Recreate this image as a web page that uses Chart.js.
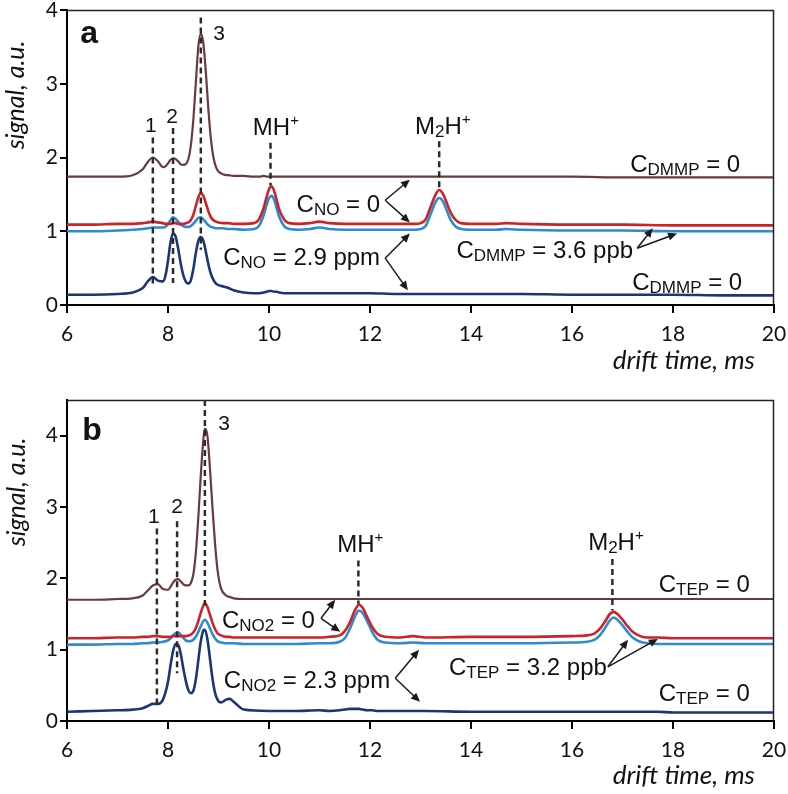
<!DOCTYPE html>
<html>
<head>
<meta charset="utf-8">
<script src="https://cdn.jsdelivr.net/npm/chart.js@4/dist/chart.umd.min.js"></script>
<style>
  html, body { margin:0; padding:0; background:#fff; }
  #wrap { position:relative; width:788px; height:794px; }
  .panel { position:absolute; left:0; width:788px; }
</style>
</head>
<body>
<div id="wrap">
  <div class="panel" style="top:0;height:390px"><canvas id="chartA" width="788" height="390"></canvas></div>
  <div class="panel" style="top:390px;height:404px"><canvas id="chartB" width="788" height="404"></canvas></div>
</div>
<script>
// ---------------- DATA : panel a (DMMP, NO) ----------------
const aTime = [6, 6.5, 7, 7.3, 7.5, 7.6, 7.7, 7.8, 7.9, 7.95, 8, 8.05, 8.1, 8.15, 8.2, 8.25, 8.3, 8.35, 8.4, 8.45, 8.5, 8.55, 8.6, 8.65, 8.7, 8.75, 8.8, 8.85, 8.9, 8.95, 9, 9.1, 9.2, 9.3, 9.5, 9.7, 9.8, 9.9, 9.95, 10, 10.05, 10.1, 10.15, 10.2, 10.3, 10.4, 10.6, 10.8, 11, 11.2, 11.5, 12, 12.5, 12.9, 13, 13.1, 13.2, 13.3, 13.37, 13.45, 13.5, 13.6, 13.7, 13.8, 14, 14.5, 14.7, 15, 16, 17, 18, 19, 20];
const aBrown = [1.74, 1.74, 1.74, 1.76, 1.84, 1.94, 2.00, 1.95, 1.87, 1.88, 1.92, 1.97, 1.99, 1.98, 1.95, 1.91, 1.90, 1.91, 1.97, 2.15, 2.50, 3.00, 3.50, 3.68, 3.55, 3.15, 2.65, 2.25, 2.00, 1.87, 1.81, 1.77, 1.76, 1.75, 1.75, 1.74, 1.74, 1.75, 1.74, 1.74, 1.74, 1.74, 1.74, 1.74, 1.74, 1.74, 1.74, 1.74, 1.74, 1.74, 1.74, 1.74, 1.74, 1.74, 1.74, 1.74, 1.74, 1.74, 1.74, 1.74, 1.74, 1.74, 1.74, 1.74, 1.74, 1.74, 1.74, 1.74, 1.74, 1.73, 1.73, 1.73, 1.73];
const aRed = [1.09, 1.09, 1.10, 1.10, 1.11, 1.12, 1.13, 1.12, 1.11, 1.10, 1.10, 1.10, 1.11, 1.11, 1.10, 1.10, 1.10, 1.11, 1.12, 1.15, 1.22, 1.34, 1.46, 1.52, 1.48, 1.38, 1.27, 1.19, 1.15, 1.13, 1.12, 1.11, 1.11, 1.10, 1.10, 1.11, 1.16, 1.33, 1.46, 1.57, 1.61, 1.55, 1.43, 1.30, 1.16, 1.11, 1.10, 1.11, 1.13, 1.11, 1.10, 1.10, 1.10, 1.10, 1.11, 1.16, 1.33, 1.50, 1.56, 1.50, 1.42, 1.25, 1.15, 1.11, 1.10, 1.10, 1.11, 1.10, 1.09, 1.09, 1.08, 1.08, 1.08];
const aBlue = [1.00, 1.00, 1.01, 1.02, 1.03, 1.04, 1.05, 1.05, 1.05, 1.06, 1.10, 1.15, 1.19, 1.17, 1.13, 1.09, 1.07, 1.06, 1.06, 1.07, 1.10, 1.14, 1.18, 1.19, 1.16, 1.12, 1.08, 1.06, 1.05, 1.04, 1.04, 1.04, 1.03, 1.03, 1.02, 1.03, 1.07, 1.23, 1.35, 1.45, 1.48, 1.43, 1.32, 1.20, 1.07, 1.03, 1.02, 1.03, 1.05, 1.03, 1.02, 1.02, 1.02, 1.02, 1.03, 1.07, 1.23, 1.40, 1.45, 1.40, 1.32, 1.15, 1.06, 1.03, 1.02, 1.02, 1.03, 1.02, 1.01, 1.01, 1.00, 1.00, 1.00];
const aNavy = [0.14, 0.14, 0.15, 0.17, 0.23, 0.32, 0.38, 0.33, 0.32, 0.40, 0.60, 0.85, 0.97, 0.93, 0.77, 0.57, 0.41, 0.32, 0.29, 0.33, 0.48, 0.70, 0.87, 0.92, 0.87, 0.72, 0.55, 0.42, 0.34, 0.29, 0.27, 0.25, 0.23, 0.20, 0.17, 0.16, 0.16, 0.17, 0.18, 0.19, 0.19, 0.18, 0.18, 0.17, 0.16, 0.16, 0.16, 0.16, 0.16, 0.16, 0.16, 0.16, 0.15, 0.15, 0.15, 0.15, 0.15, 0.15, 0.15, 0.15, 0.15, 0.15, 0.15, 0.15, 0.15, 0.15, 0.15, 0.15, 0.14, 0.14, 0.14, 0.13, 0.13];

// ---------------- DATA : panel b (TEP, NO2) ----------------
const bTime = [6, 6.5, 7, 7.3, 7.5, 7.6, 7.7, 7.8, 7.9, 8, 8.05, 8.1, 8.15, 8.2, 8.25, 8.3, 8.35, 8.4, 8.45, 8.5, 8.55, 8.6, 8.65, 8.7, 8.73, 8.78, 8.83, 8.88, 8.93, 8.98, 9.05, 9.15, 9.22, 9.3, 9.5, 10, 10.5, 11, 11.2, 11.4, 11.5, 11.6, 11.7, 11.78, 11.85, 11.95, 12.05, 12.15, 12.3, 12.6, 12.85, 13.1, 14, 15, 16, 16.3, 16.45, 16.55, 16.65, 16.75, 16.82, 16.9, 17, 17.1, 17.2, 17.35, 17.5, 17.7, 18, 19, 20];
const bBrown = [1.70, 1.70, 1.71, 1.72, 1.76, 1.83, 1.90, 1.92, 1.85, 1.84, 1.88, 1.94, 1.98, 1.99, 1.96, 1.92, 1.90, 1.90, 1.93, 2.05, 2.35, 2.85, 3.45, 3.95, 4.10, 4.00, 3.55, 3.00, 2.50, 2.12, 1.86, 1.76, 1.74, 1.72, 1.71, 1.71, 1.71, 1.71, 1.71, 1.71, 1.71, 1.71, 1.71, 1.71, 1.71, 1.71, 1.71, 1.71, 1.71, 1.71, 1.71, 1.71, 1.71, 1.71, 1.71, 1.71, 1.71, 1.71, 1.71, 1.71, 1.71, 1.71, 1.71, 1.71, 1.71, 1.71, 1.71, 1.71, 1.71, 1.71, 1.71];
const bRed = [1.16, 1.16, 1.17, 1.17, 1.18, 1.18, 1.19, 1.19, 1.18, 1.18, 1.18, 1.19, 1.19, 1.19, 1.19, 1.19, 1.19, 1.20, 1.21, 1.24, 1.30, 1.40, 1.52, 1.62, 1.65, 1.60, 1.49, 1.38, 1.29, 1.23, 1.20, 1.18, 1.18, 1.17, 1.17, 1.17, 1.17, 1.17, 1.18, 1.20, 1.26, 1.38, 1.55, 1.63, 1.59, 1.45, 1.31, 1.22, 1.18, 1.17, 1.19, 1.17, 1.18, 1.18, 1.19, 1.20, 1.23, 1.29, 1.39, 1.50, 1.53, 1.50, 1.42, 1.33, 1.25, 1.19, 1.17, 1.17, 1.16, 1.16, 1.16];
const bBlue = [1.07, 1.07, 1.08, 1.08, 1.09, 1.09, 1.10, 1.10, 1.11, 1.13, 1.16, 1.20, 1.23, 1.24, 1.21, 1.17, 1.13, 1.12, 1.12, 1.14, 1.18, 1.25, 1.33, 1.40, 1.42, 1.38, 1.30, 1.22, 1.16, 1.12, 1.10, 1.09, 1.09, 1.09, 1.08, 1.08, 1.08, 1.09, 1.09, 1.11, 1.16, 1.29, 1.46, 1.55, 1.52, 1.39, 1.24, 1.14, 1.10, 1.09, 1.10, 1.09, 1.09, 1.09, 1.10, 1.11, 1.14, 1.20, 1.30, 1.41, 1.45, 1.42, 1.34, 1.25, 1.17, 1.11, 1.09, 1.08, 1.08, 1.08, 1.08];
const bNavy = [0.13, 0.14, 0.15, 0.16, 0.18, 0.21, 0.24, 0.24, 0.30, 0.55, 0.78, 0.98, 1.08, 1.07, 0.95, 0.75, 0.57, 0.44, 0.39, 0.42, 0.58, 0.85, 1.12, 1.27, 1.28, 1.15, 0.88, 0.60, 0.40, 0.30, 0.26, 0.30, 0.31, 0.27, 0.16, 0.14, 0.14, 0.15, 0.14, 0.15, 0.16, 0.17, 0.17, 0.17, 0.16, 0.15, 0.15, 0.14, 0.14, 0.14, 0.14, 0.14, 0.13, 0.13, 0.13, 0.13, 0.13, 0.13, 0.13, 0.13, 0.13, 0.13, 0.13, 0.13, 0.13, 0.13, 0.13, 0.13, 0.12, 0.12, 0.12];

// tick labels
const xTicks = [6, 8, 10, 12, 14, 16, 18, 20];
const yTicks = [0, 1, 2, 3, 4];

// peak markers (drift time, top, bottom of dashed line) and texts
const aPeaks = [
  {x: 7.70, top: 2.27, bottom: 0.25}, {x: 8.10, top: 2.40, bottom: 0.30},
  {x: 8.65, top: 3.90, bottom: 0.75}, {x: 10.03, top: 2.20, bottom: 1.62},
  {x: 13.37, top: 2.22, bottom: 1.58}
];
const bPeaks = [
  {x: 7.78, top: 2.70, bottom: 0.18}, {x: 8.18, top: 2.80, bottom: 0.67},
  {x: 8.73, top: 4.50, bottom: 1.62}, {x: 11.77, top: 2.25, bottom: 1.64},
  {x: 16.80, top: 2.27, bottom: 1.55}
];
// text parts: [text, kind] kind 0 normal, 1 subscript, 2 superscript, 3 digit label, 4 bold panel letter
const aNotes = [
  {parts: [['a', 4]], x: 6.26, y: 3.55, align: 'left'},
  {parts: [['1', 3]], x: 7.66, y: 2.34, align: 'center'},
  {parts: [['2', 3]], x: 8.08, y: 2.47, align: 'center'},
  {parts: [['3', 3]], x: 9.01, y: 3.59, align: 'center'},
  {parts: [['MH', 0], ['+', 2]], x: 9.68, y: 2.30, align: 'left'},
  {parts: [['M', 0], ['2', 1], ['H', 0], ['+', 2]], x: 12.89, y: 2.32, align: 'left'},
  {parts: [['C', 0], ['DMMP', 1], [' = 0', 0]], x: 19.33, y: 1.81, align: 'right'},
  {parts: [['C', 0], ['NO', 1], [' = 0', 0]], x: 12.20, y: 1.26, align: 'right'},
  {parts: [['C', 0], ['NO', 1], [' = 2.9 ppm', 0]], x: 12.20, y: 0.54, align: 'right'},
  {parts: [['C', 0], ['DMMP', 1], [' = 3.6 ppb', 0]], x: 17.21, y: 0.64, align: 'right'},
  {parts: [['C', 0], ['DMMP', 1], [' = 0', 0]], x: 19.37, y: 0.20, align: 'right'}
];
const bNotes = [
  {parts: [['b', 4]], x: 6.30, y: 3.94, align: 'left'},
  {parts: [['1', 3]], x: 7.72, y: 2.78, align: 'center'},
  {parts: [['2', 3]], x: 8.18, y: 2.92, align: 'center'},
  {parts: [['3', 3]], x: 9.11, y: 4.08, align: 'center'},
  {parts: [['MH', 0], ['+', 2]], x: 11.35, y: 2.37, align: 'left'},
  {parts: [['M', 0], ['2', 1], ['H', 0], ['+', 2]], x: 16.32, y: 2.40, align: 'left'},
  {parts: [['C', 0], ['TEP', 1], [' = 0', 0]], x: 19.52, y: 1.81, align: 'right'},
  {parts: [['C', 0], ['NO2', 1], [' = 0', 0]], x: 10.91, y: 1.30, align: 'right'},
  {parts: [['C', 0], ['NO2', 1], [' = 2.3 ppm', 0]], x: 12.40, y: 0.46, align: 'right'},
  {parts: [['C', 0], ['TEP', 1], [' = 3.2 ppb', 0]], x: 16.69, y: 0.645, align: 'right'},
  {parts: [['C', 0], ['TEP', 1], [' = 0', 0]], x: 19.52, y: 0.28, align: 'right'}
];
// arrows: from vertex to heads
const aArrows = [
  {from: [12.30, 1.42], to: [[12.79, 1.70], [12.79, 1.12]]},
  {from: [12.30, 0.635], to: [[12.79, 0.97], [12.75, 0.20]]},
  {from: [17.29, 0.77], to: [[17.60, 1.04], [18.08, 0.97]]}
];
const bArrows = [
  {from: [11.03, 1.44], to: [[11.31, 1.70], [11.41, 1.25]]},
  {from: [12.50, 0.60], to: [[12.97, 1.00], [12.99, 0.27]]},
  {from: [16.71, 0.76], to: [[17.11, 1.14], [17.70, 1.15]]}
];

const COLORS = {brown: '#6b3a3a', red: '#cc2229', blue: '#2e8bd0', navy: '#1b3676'};
const NOTE_FONT = '"Liberation Sans", Arial, sans-serif';
const AXIS_FONT = 'Lato, "Open Sans", sans-serif';

function pts(xs, ys) { return xs.map((x, i) => ({x: x, y: ys[i]})); }

function partFont(kind) {
  switch (kind) {
    case 1: return {font: '17px ' + NOTE_FONT, dy: 3};
    case 2: return {font: '15px ' + NOTE_FONT, dy: -10};
    case 3: return {font: '21px ' + NOTE_FONT, dy: 0};
    case 4: return {font: 'bold 32px ' + NOTE_FONT, dy: 0};
    default: return {font: '24px ' + NOTE_FONT, dy: 0};
  }
}

function drawRich(ctx, parts, x, y, align) {
  let total = 0;
  const widths = parts.map(p => { ctx.font = partFont(p[1]).font; const w = ctx.measureText(p[0]).width; total += w; return w; });
  let cx = align === 'right' ? x - total : (align === 'center' ? x - total / 2 : x);
  ctx.textBaseline = 'alphabetic';
  ctx.textAlign = 'left';
  parts.forEach((p, i) => {
    const f = partFont(p[1]);
    ctx.font = f.font;
    ctx.fillText(p[0], cx, y + f.dy);
    cx += widths[i];
  });
}

function drawArrow(ctx, x0, y0, x1, y1) {
  const ang = Math.atan2(y1 - y0, x1 - x0);
  const hl = 9, hw = 4;
  ctx.beginPath();
  ctx.moveTo(x0, y0);
  ctx.lineTo(x1 - Math.cos(ang) * hl * 0.8, y1 - Math.sin(ang) * hl * 0.8);
  ctx.stroke();
  ctx.beginPath();
  ctx.moveTo(x1, y1);
  ctx.lineTo(x1 - Math.cos(ang) * hl + Math.sin(ang) * hw, y1 - Math.sin(ang) * hl - Math.cos(ang) * hw);
  ctx.lineTo(x1 - Math.cos(ang) * hl - Math.sin(ang) * hw, y1 - Math.sin(ang) * hl + Math.cos(ang) * hw);
  ctx.closePath();
  ctx.fill();
}

function makeNotesPlugin(peaks, notes, arrows, yTitlePos, xTitleBaseline) {
  return {
    id: 'notes',
    afterDraw(chart) {
      const ctx = chart.ctx, xs = chart.scales.x, ys = chart.scales.y, ca = chart.chartArea;
      ctx.save();
      // frame top & right
      ctx.strokeStyle = '#222';
      ctx.lineWidth = 1.5;
      ctx.beginPath();
      ctx.moveTo(ca.left, ca.top + 0.5);
      ctx.lineTo(ca.right - 0.5, ca.top + 0.5);
      ctx.lineTo(ca.right - 0.5, ca.bottom);
      ctx.stroke();
      // dashed peak markers
      ctx.strokeStyle = '#2b2b2b';
      ctx.lineWidth = 2.5;
      ctx.setLineDash([6, 4]);
      peaks.forEach(p => {
        const px = xs.getPixelForValue(p.x);
        ctx.beginPath();
        ctx.moveTo(px, ys.getPixelForValue(p.top));
        ctx.lineTo(px, ys.getPixelForValue(p.bottom));
        ctx.stroke();
      });
      ctx.setLineDash([]);
      // arrows
      ctx.strokeStyle = '#1a1a1a';
      ctx.fillStyle = '#1a1a1a';
      ctx.lineWidth = 1.5;
      arrows.forEach(a => {
        const x0 = xs.getPixelForValue(a.from[0]), y0 = ys.getPixelForValue(a.from[1]);
        a.to.forEach(t => drawArrow(ctx, x0, y0, xs.getPixelForValue(t[0]), ys.getPixelForValue(t[1])));
      });
      // texts
      ctx.fillStyle = '#111';
      notes.forEach(n => drawRich(ctx, n.parts, xs.getPixelForValue(n.x), ys.getPixelForValue(n.y), n.align));
      // axis titles
      ctx.font = 'italic 26px ' + AXIS_FONT;
      ctx.fillStyle = '#111';
      ctx.textAlign = 'right';
      ctx.textBaseline = 'alphabetic';
      ctx.fillText('drift time, ms', 755, xTitleBaseline);
      ctx.save();
      ctx.translate(yTitlePos[0], yTitlePos[1]);
      ctx.rotate(-Math.PI / 2);
      ctx.font = 'italic 25px ' + AXIS_FONT;
      ctx.textAlign = 'center';
      ctx.textBaseline = 'middle';
      ctx.fillText('signal, a.u.', 0, 0);
      ctx.restore();
      ctx.restore();
    }
  };
}

function makeChart(id, time, series, yMax, xHeight, plugin) {
  const names = ['brown', 'red', 'blue', 'navy'];
  const labels = ['no analyte, no dopant', 'analyte, no dopant', 'analyte + dopant', 'dopant only'];
  return new Chart(document.getElementById(id), {
    type: 'line',
    data: {
      datasets: series.map((s, i) => ({
        label: labels[i],
        data: pts(time, s),
        borderColor: COLORS[names[i]],
        borderWidth: i === 0 ? 2.2 : 2.6,
        pointRadius: 0,
        fill: false,
        cubicInterpolationMode: 'monotone',
        order: [4, 2, 3, 1][i]
      }))
    },
    options: {
      responsive: false,
      animation: false,
      devicePixelRatio: 1,
      layout: {padding: {top: 10, right: 14, left: 0, bottom: 0}},
      plugins: {legend: {display: false}, tooltip: {enabled: false}},
      scales: {
        x: {
          type: 'linear', min: 6, max: 20,
          afterBuildTicks: sc => { sc.ticks = xTicks.map(v => ({value: v})); },
          afterFit: sc => { sc.height = xHeight; sc.paddingLeft = 0; sc.paddingRight = 0; },
          ticks: {color: '#111', font: {family: 'Lato', size: 21}, padding: 9, maxRotation: 0},
          grid: {drawOnChartArea: false, drawTicks: true, tickLength: 8, color: '#000', lineWidth: 2},
          border: {display: true, color: '#000', width: 2}
        },
        y: {
          type: 'linear', min: 0, max: yMax,
          afterBuildTicks: sc => { sc.ticks = yTicks.map(v => ({value: v})); },
          afterFit: sc => { sc.width = 67; sc.paddingTop = 0; sc.paddingBottom = 0; },
          ticks: {color: '#111', font: {family: 'Lato', size: 21}, padding: 2},
          grid: {drawOnChartArea: false, drawTicks: true, tickLength: 7, color: '#000', lineWidth: 2},
          border: {display: true, color: '#000', width: 2}
        }
      }
    },
    plugins: [plugin]
  });
}

makeChart('chartA', aTime, [aBrown, aRed, aBlue, aNavy], 4, 85,
  makeNotesPlugin(aPeaks, aNotes, aArrows, [16, 95], 369));
makeChart('chartB', bTime, [bBrown, bRed, bBlue, bNavy], 4.5, 73,
  makeNotesPlugin(bPeaks, bNotes, bArrows, [17, 102], 394));
</script>
</body>
</html>
